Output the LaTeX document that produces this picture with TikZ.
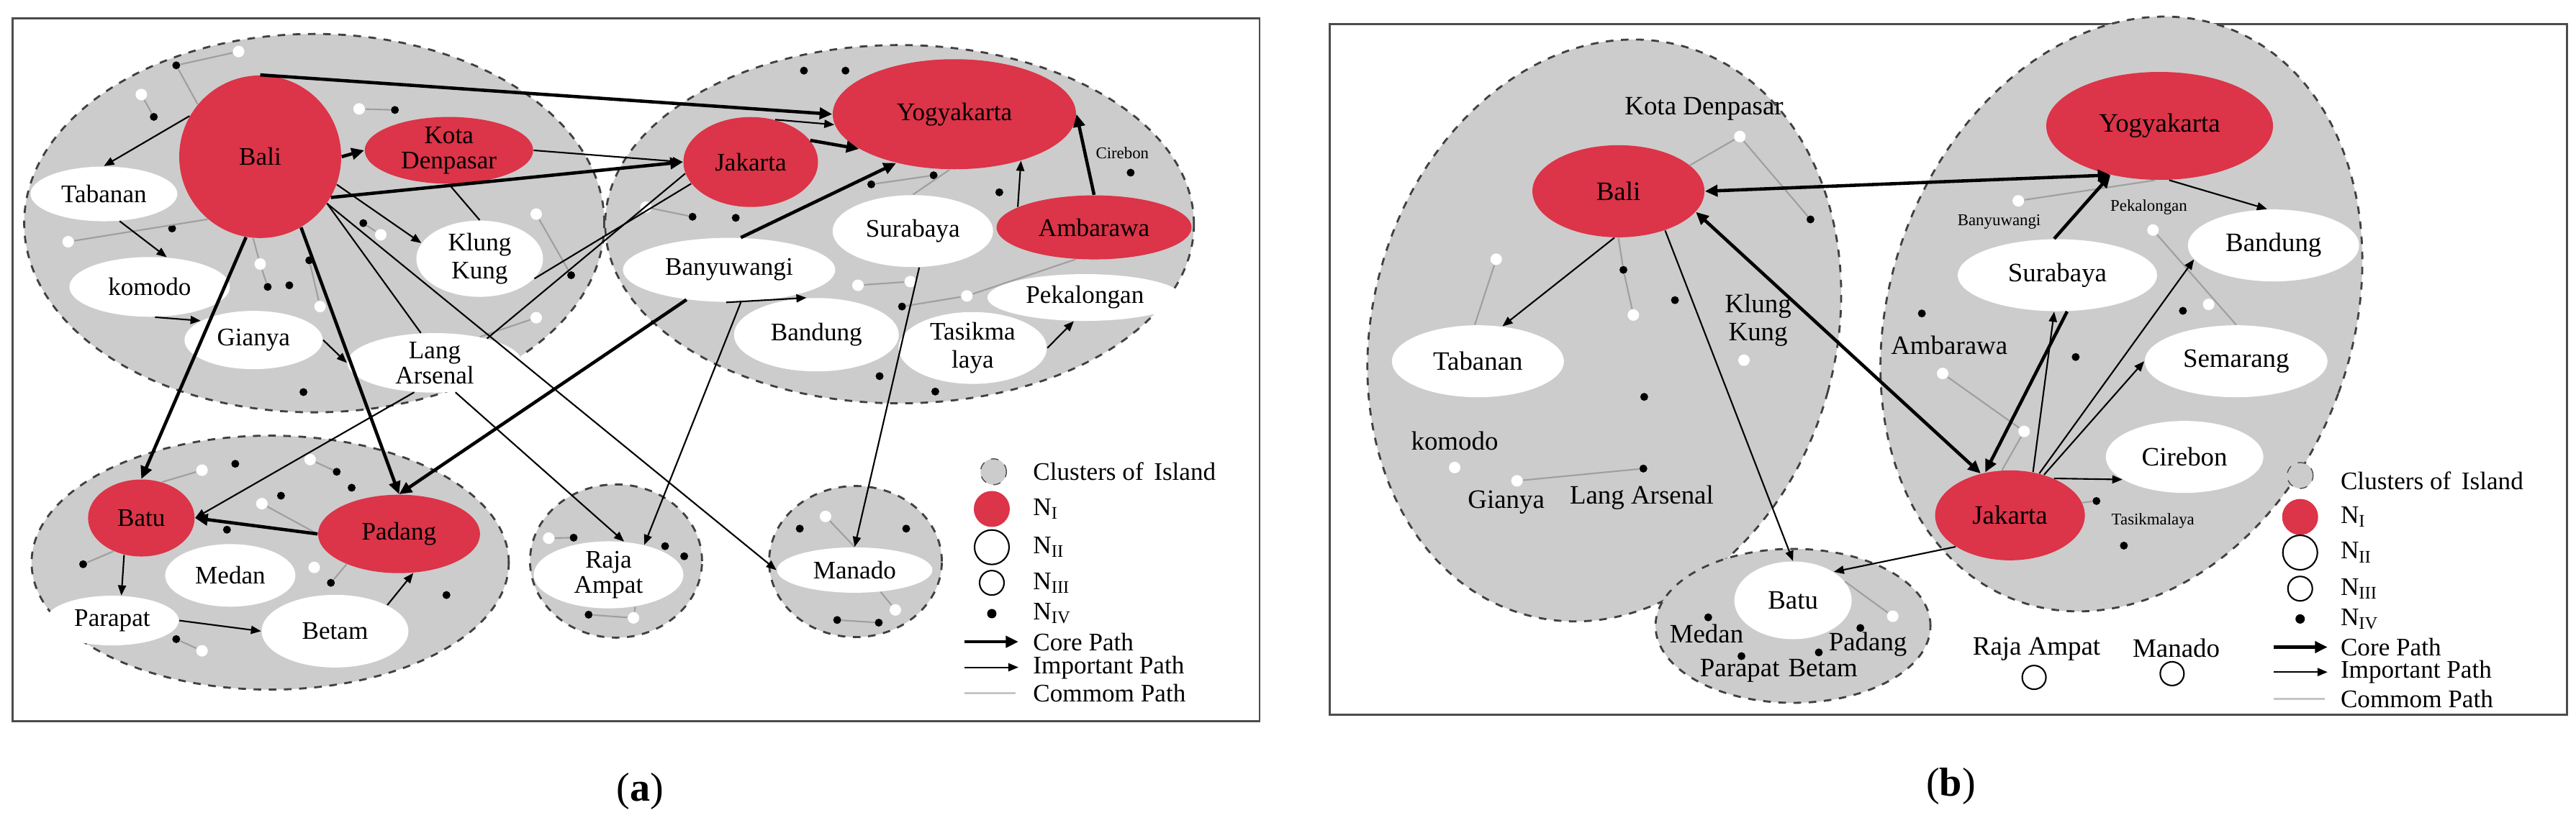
\documentclass[tikz,border=0pt]{standalone}
\usepackage{fontspec}
\setmainfont{Liberation Serif}
\usetikzlibrary{shapes.geometric,arrows.meta}
\definecolor{cred}{RGB}{220,52,72}
\definecolor{cgray}{RGB}{204,204,204}
\tikzset{
 clu/.style={ellipse,draw=black!75,dashed,line width=0.8pt,fill=cgray,inner sep=0},
 rn/.style={ellipse,fill=cred,inner sep=0,align=center,font=\fontsize{10}{11}\selectfont},
 wn/.style={ellipse,fill=white,inner sep=0,align=center,font=\fontsize{10}{11}\selectfont},
 bd/.style={circle,fill=black,inner sep=0,minimum size=0.11cm},
 wd/.style={circle,fill=white,inner sep=0,minimum size=0.16cm},
 core/.style={line width=1.3pt,-{Triangle[length=5pt,width=4.5pt]}},
 imp/.style={line width=0.6pt,-{Triangle[length=4pt,width=3.2pt]}},
 com/.style={line width=0.6pt,gray!75},
 sm/.style={font=\fontsize{6.5}{7}\selectfont},
 lab/.style={font=\fontsize{10}{11}\selectfont,anchor=west},
 txt/.style={font=\fontsize{10.5}{11}\selectfont}
}
\begin{document}
\begin{tikzpicture}
\useasboundingbox (0,0) rectangle (35.79,11.44);
% ================= panel a =================
\begin{scope}[shift={(0cm,11.44cm)},x=0.01155cm,y=-0.00738cm]
\draw[black!70,line width=0.8pt] (15,35) rectangle (1515,1358);
\node[clu,minimum width=8.06cm,minimum height=5.26cm] (c1) at (378,420) {};
\node[clu,minimum width=8.18cm,minimum height=4.98cm] (c2) at (1082,422) {};
\node[clu,minimum width=6.63cm,minimum height=3.53cm] (c3) at (325,1059) {};
\node[clu,minimum width=2.39cm,minimum height=2.13cm] (c4) at (741,1056) {};
\node[clu,minimum width=2.40cm,minimum height=2.10cm] (c5) at (1029,1057) {};
% dots
\foreach \n/\x/\y in {w1/287/97,w2/170/178,w3/432/205,w4/458/442,w5/82/455,w6/313/497,w7/385/577,w8/645/403,w9/645/598,w10/777/390,w11/1032/537,w12/1095/530,w13/1163/557,w14/243/885,w15/373/865,w16/315/948,w17/378/1068,w18/243/1225,w19/660/1013,w20/762/1163,w21/993/972,w22/1077/1148}
 \node[wd] (\n) at (\x,\y) {};
\foreach \n/\x/\y in {b1/212/123,b2/185/220,b3/475/207,b4/207/430,b5/437/420,b6/322/540,b7/348/537,b8/372/490,b9/687/518,b10/365/738,b11/967/133,b12/1017/133,b13/1048/347,b14/1123/330,b15/1202/362,b16/1360/325,b17/833/408,b18/885/410,b19/1085/577,b20/1058/708,b21/1125/737,b22/283/873,b23/338/933,b24/405/888,b25/423/918,b26/273/997,b27/100/1062,b28/398/1097,b29/537/1120,b30/212/1203,b31/690/1012,b32/800/1028,b33/823/1047,b34/708/1157,b35/962/995,b36/1090/995,b37/1007/1167,b38/1057/1172}
 \node[bd] (\n) at (\x,\y) {};
% city nodes
\node[rn,minimum width=2.25cm,minimum height=2.26cm] (bali) at (313,295) {Bali};
\node[rn,minimum width=2.34cm,minimum height=0.80cm] (kota) at (540,283) {Kota\\[-1pt]Denpasar};
\node[rn,minimum width=1.87cm,minimum height=1.25cm] (jak) at (903,305) {Jakarta};
\node[rn,minimum width=3.38cm,minimum height=1.53cm] (yog) at (1148,215) {Yogyakarta};
\node[rn,minimum width=2.71cm,minimum height=0.89cm] (amb) at (1316,428) {Ambarawa};
\node[rn,minimum width=1.48cm,minimum height=1.07cm] (batu) at (170,975) {Batu};
\node[rn,minimum width=2.25cm,minimum height=1.09cm] (pad) at (480,1005) {Padang};
\node[wn,minimum width=2.04cm,minimum height=0.76cm] (tab) at (125,365) {Tabanan};
\node[wn,minimum width=2.23cm,minimum height=0.83cm] (kom) at (180,540) {komodo};
\node[wn,minimum width=1.92cm,minimum height=0.81cm] (gia) at (305,640) {Gianya};
\node[wn,minimum width=1.76cm,minimum height=1.06cm] (klu) at (577,487) {Klung\\Kung};
\node[wn,minimum width=2.43cm,minimum height=0.76cm] (lang) at (523,683) {Lang\\[-1pt]Arsenal};
\node[wn,minimum width=2.95cm,minimum height=0.89cm] (ban) at (877,508) {Banyuwangi};
\node[wn,minimum width=2.23cm,minimum height=1.00cm] (sur) at (1098,435) {Surabaya};
\node[wn,minimum width=2.29cm,minimum height=1.02cm] (bdg) at (982,630) {Bandung};
\node[wn,minimum width=2.06cm,minimum height=0.97cm] (tas) at (1170,655) {Tasikma\\laya};
\node[wn,minimum width=2.71cm,minimum height=0.65cm] (pek) at (1305,560) {Pekalongan};
\node[wn,minimum width=1.81cm,minimum height=0.87cm] (med) at (277,1083) {Medan};
\node[wn,minimum width=1.85cm,minimum height=0.69cm] (par) at (135,1168) {Parapat};
\node[wn,minimum width=2.04cm,minimum height=1.01cm] (bet) at (403,1188) {Betam};
\node[wn,minimum width=2.08cm,minimum height=0.77cm] (raja) at (732,1082) {Raja\\[-1pt]Ampat};
\node[wn,minimum width=2.16cm,minimum height=0.63cm] (man) at (1028,1073) {Manado};
\node[sm] (cir) at (1350,288) {Cirebon};
% common paths
\draw[com] (b1)--(w1) (b1)--(bali.140) (w2)--(b2) (w3)--(b3) (w5)--(bali.-130) (b5)--(w4)
 (bali.-95)--(w6) (w6)--(b6) (b8)--(w7) (w8)--(b9) (w9)--(lang.30) (w10)--(b17)
 (b13)--(b14) (w11)--(w12) (b19)--(w13) (w13)--(amb.-120) (yog.-95)--(sur.north)
 (b24)--(w15) (w14)--(batu.60) (w16)--(pad.west) (b28)--(pad.-150) (b30)--(w18)
 (b27)--(batu.-130) (w19)--(b31) (b34)--(w20) (w20)--(raja.-50) (w21)--(man.north)
 (b37)--(b38) (w22)--(man.-40);
% important paths
\draw[imp] (kota.east)--(jak.west);
\draw[imp] (bali.150)--(tab.north);
\draw[imp] (tab.-60)--(kom.60);
\draw[imp] (gia.east)--(lang.west);
\draw[line width=0.6pt] (bali.-35)--(lang.115);
\draw[line width=0.6pt] (jak.190)--(lang.25);
\draw[line width=0.6pt] (jak.200)--(klu.-20);
\draw[line width=0.6pt] (klu.north)--(kota.south);
\draw[imp] (bali.-35)--(man.west);
\draw[imp] (lang.-55)--(raja.65);
\draw[imp] (lang.-125)--(batu.east);
\draw[imp] (ban.-70)--(raja.40);
\draw[imp] (ban.-95)--(bdg.105);
\draw[imp] (sur.-80)--(man.north);
\draw[imp] (tas.east)--(pek.-115);
\draw[imp] (amb.165)--(yog.-35);
\draw[imp] (jak.60)--(yog.-175);
\draw[imp] (bali.-20)--(klu.165);
\draw[imp] (kom.-80)--(gia.160);
\draw[imp] (par.east)--(bet.west);
\draw[imp] (batu.-115)--(par.70);
\draw[imp] (bet.north east)--(pad.-70);
% core paths
\draw[core] (bali.north)--(yog.west);
\draw[core] (bali.east)--(kota.west);
\draw[core] (bali.-30)--(jak.west);
\draw[core] (bali.-100)--(batu.north);
\draw[core] (bali.-60)--(pad.north);
\draw[core] (pad.west)--(batu.east);
\draw[core] (ban.-145)--(pad.north);
\draw[core] (ban.70)--(yog.-140);
\draw[core] (amb.north)--(yog.east);
\draw[core] (jak.20)--(yog.-160);
% legend
\node[circle,draw=black!70,dashed,fill=cgray,minimum size=0.36cm,inner sep=0] (la1) at (1195,888) {};
\node[circle,fill=cred,minimum size=0.5cm,inner sep=0] (la2) at (1193,958) {};
\node[circle,draw=black,line width=0.6pt,fill=white,minimum size=0.48cm,inner sep=0] (la3) at (1193,1030) {};
\node[circle,draw=black,line width=0.6pt,fill=white,minimum size=0.34cm,inner sep=0] (la4) at (1193,1097) {};
\node[bd,minimum size=0.13cm] (la5) at (1193,1155) {};
\coordinate (la6a) at (1160,1208); \coordinate (la6b) at (1225,1208);
\coordinate (la7a) at (1160,1256); \coordinate (la7b) at (1225,1256);
\coordinate (la8a) at (1160,1305); \coordinate (la8b) at (1222,1305);
\draw[core] (la6a)--(la6b); \draw[imp] (la7a)--(la7b); \draw[com,gray!45,line width=0.8pt] (la8a)--(la8b);
\node[lab] at (1232,888) {Clusters of\, Island};
\node[lab] at (1232,958) {N\textsubscript{I}};
\node[lab] at (1232,1030) {N\textsubscript{II}};
\node[lab] at (1232,1097) {N\textsubscript{III}};
\node[lab] at (1232,1155) {N\textsubscript{IV}};
\node[lab] at (1232,1208) {Core Path};
\node[lab] at (1232,1256) {Important Path};
\node[lab] at (1232,1305) {Commom Path};
\node[font=\fontsize{16}{18}\selectfont] at (770,1490) {(\textbf{a})};
\end{scope}
% ================= panel b =================
\begin{scope}[shift={(17.90cm,11.44cm)},x=0.01155cm,y=-0.00738cm,rn/.append style={font=\fontsize{10.5}{11}\selectfont},wn/.append style={font=\fontsize{10.5}{11}\selectfont}]
\draw[black!70,line width=0.8pt] (50,45) rectangle (1538,1345);
\node[clu,minimum width=6.44cm,minimum height=8.2cm,rotate=-15.5] (cl) at (380,622) {};
\node[clu,minimum width=6.42cm,minimum height=8.48cm,rotate=-20] (cr) at (1002,591) {};
\node[clu,minimum width=3.82cm,minimum height=2.14cm] (cb) at (607,1178) {};
\foreach \n/\x/\y in {v1/543/257,v2/250/488,v3/415/593,v4/548/678,v5/200/880,v6/275/905,v7/878/378,v8/1040/433,v9/1107/573,v10/787/703,v11/885/812,v12/727/1160}
 \node[wd] (\n) at (\x,\y) {};
\foreach \n/\x/\y in {k1/628/413,k2/403/508,k3/465/565,k4/428/747,k5/427/882,k6/762/590,k7/1076/585,k8/947/672,k9/972/943,k10/1005/1027,k11/505/1162,k12/545/1235,k13/638/1228,k14/688/1182}
 \node[bd] (\n) at (\x,\y) {};
\node[rn,minimum width=2.39cm,minimum height=1.28cm] (bbali) at (397,360) {Bali};
\node[rn,minimum width=3.15cm,minimum height=1.50cm] (byog) at (1048,237) {Yogyakarta};
\node[rn,minimum width=2.08cm,minimum height=1.25cm] (bjak) at (868,970) {Jakarta};
\node[wn,minimum width=2.77cm,minimum height=1.00cm] (bsur) at (925,518) {Surabaya};
\node[wn,minimum width=2.38cm,minimum height=1.00cm] (bbdg) at (1185,462) {Bandung};
\node[wn,minimum width=2.54cm,minimum height=1.00cm] (bsem) at (1140,680) {Semarang};
\node[wn,minimum width=2.19cm,minimum height=1.00cm] (bcir) at (1078,860) {Cirebon};
\node[wn,minimum width=2.39cm,minimum height=1.00cm] (btab) at (228,680) {Tabanan};
\node[wn,minimum width=1.63cm,minimum height=1.08cm] (bbatu) at (607,1130) {Batu};
\node[txt] at (500,205) {Kota Denpasar};
\node[txt,align=center] at (565,603) {Klung\\Kung};
\node[txt] at (200,830) {komodo};
\node[txt] at (262,945) {Gianya};
\node[txt] at (425,937) {Lang Arsenal};
\node[sm] at (855,418) {Banyuwangi};
\node[sm] at (1035,390) {Pekalongan};
\node[txt] at (795,650) {Ambarawa};
\node[sm] at (1040,980) {Tasikmalaya};
\node[txt] at (503,1193) {Medan};
\node[txt] at (697,1213) {Padang};
\node[txt] at (543,1262) {Parapat};
\node[txt] at (643,1257) {Betam};
\node[txt] at (900,1222) {Raja Ampat};
\node[txt] at (1068,1220) {Manado};
\node[circle,draw=black,line width=0.6pt,fill=white,minimum size=0.33cm,inner sep=0] (bra) at (897,1275) {};
\node[circle,draw=black,line width=0.6pt,fill=white,minimum size=0.33cm,inner sep=0] (bma) at (1063,1268) {};
% common
\draw[com] (v1)--(bbali.20) (v1)--(k1) (bbali.-90)--(k2) (k2)--(v3) (btab.95)--(v2)
 (v6)--(k5) (v7)--(byog.-95) (v8)--(bsem.north) (v10)--(v11) (v11)--(bjak.100)
 (k9)--(bjak.10) (bbatu.20)--(v12);
% important
\draw[imp] (bbali.-95)--(btab.55);
\draw[imp] (bbali.-40)--(bbatu.north);
\draw[imp] (bjak.-150)--(bbatu.35);
\draw[imp] (bjak.62)--(bsur.-95);
\draw[imp] (bjak.55)--(bbdg.-170);
\draw[imp] (bjak.50)--(bsem.west);
\draw[imp] (bjak.40)--(bcir.-160);
\draw[imp] (byog.-80)--(bbdg.100);
% core
\draw[core,{Triangle[length=5pt,width=4.5pt]}-{Triangle[length=5pt,width=4.5pt]}] (bbali.east)--(byog.-135);
\draw[core,{Triangle[length=5pt,width=4.5pt]}-{Triangle[length=5pt,width=4.5pt]}] (bbali.-15)--(bjak.125);
\draw[core] (bsur.95)--(byog.-135);
\draw[core] (bsur.-75)--(bjak.120);
% legend
\node[circle,draw=black!70,dashed,fill=cgray,minimum size=0.36cm,inner sep=0] (lb1) at (1217,895) {};
\node[circle,fill=cred,minimum size=0.5cm,inner sep=0] (lb2) at (1217,973) {};
\node[circle,draw=black,line width=0.6pt,fill=white,minimum size=0.48cm,inner sep=0] (lb3) at (1217,1040) {};
\node[circle,draw=black,line width=0.6pt,fill=white,minimum size=0.34cm,inner sep=0] (lb4) at (1217,1108) {};
\node[bd,minimum size=0.13cm] (lb5) at (1217,1165) {};
\coordinate (lb6a) at (1185,1218); \coordinate (lb6b) at (1250,1218);
\coordinate (lb7a) at (1185,1265); \coordinate (lb7b) at (1250,1265);
\coordinate (lb8a) at (1185,1315); \coordinate (lb8b) at (1247,1315);
\draw[core] (lb6a)--(lb6b); \draw[imp] (lb7a)--(lb7b); \draw[com,gray!45,line width=0.8pt] (lb8a)--(lb8b);
\node[lab] at (1255,905) {Clusters of\, Island};
\node[lab] at (1255,973) {N\textsubscript{I}};
\node[lab] at (1255,1040) {N\textsubscript{II}};
\node[lab] at (1255,1108) {N\textsubscript{III}};
\node[lab] at (1255,1165) {N\textsubscript{IV}};
\node[lab] at (1255,1218) {Core Path};
\node[lab] at (1255,1265) {Important Path};
\node[lab] at (1255,1315) {Commom Path};
\node[font=\fontsize{16}{18}\selectfont] at (797,1480) {(\textbf{b})};
\end{scope}
\end{tikzpicture}
\end{document}
